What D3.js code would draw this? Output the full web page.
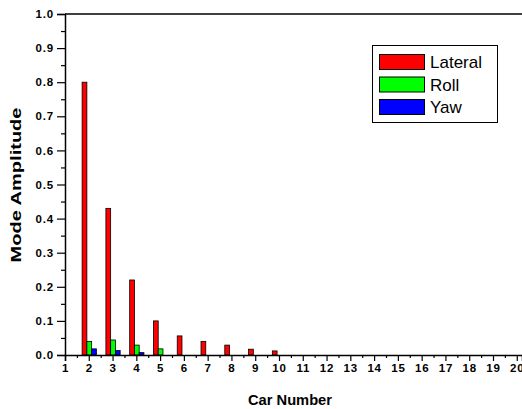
<!DOCTYPE html>
<html><head><meta charset="utf-8">
<script src="https://cdn.jsdelivr.net/npm/d3@7"></script>
<style>body{margin:0;background:#fff}svg{display:block}</style>
</head><body>
<script>
const cars = [2,3,4,5,6,7,8,9,10];
const lateral = [0.80,0.43,0.22,0.10,0.056,0.040,0.029,0.017,0.012];
const roll = [0.040,0.044,0.029,0.018,0,0,0,0,0];
const yaw = [0.018,0.013,0.007,0,0,0,0,0,0];
const seriesNames = ["Lateral","Roll","Yaw"];
const seriesColors = ["#ff0000","#00ff00","#0000ff"];
const xTicks = d3.range(1,21);
const yTicks = [0,0.1,0.2,0.3,0.4,0.5,0.6,0.7,0.8,0.9,1.0];

const W=522,H=409;
const svg=d3.select("body").append("svg").attr("width",W).attr("height",H);
const x=d3.scaleLinear().domain([1,20.22]).range([65,522]);
const y=d3.scaleLinear().domain([0,1]).range([355,14]);
const font="Liberation Sans, Arial, sans-serif";

// bars
const series=[lateral,roll,yaw];
const offs=[-0.28,-0.08,0.12];
const bw=0.2;
series.forEach((vals,si)=>{
  svg.append("g").selectAll("rect").data(cars.map((c,i)=>({c,v:vals[i]})).filter(d=>d.v>0))
    .join("rect")
    .attr("x",d=>x(d.c+offs[si]))
    .attr("width",d=>x(d.c+offs[si]+bw)-x(d.c+offs[si]))
    .attr("y",d=>y(d.v))
    .attr("height",d=>y(0)-y(d.v))
    .attr("fill",seriesColors[si]).attr("stroke","#000").attr("stroke-width",0.8);
});

// top border
svg.append("line").attr("x1",x(1)).attr("x2",W).attr("y1",y(1)).attr("y2",y(1)).attr("stroke","#000").attr("stroke-width",1.5);

// y axis
const yAx=svg.append("g").attr("transform",`translate(${x(1)},0)`)
  .call(d3.axisLeft(y).tickValues(yTicks).tickFormat(d3.format(".1f")).tickSize(8).tickPadding(3));
const yMinor=svg.append("g").attr("transform",`translate(${x(1)},0)`)
  .call(d3.axisLeft(y).tickValues(d3.range(0.05,1,0.1)).tickFormat("").tickSize(4));
// x axis
const xAx=svg.append("g").attr("transform",`translate(0,${y(0)})`)
  .call(d3.axisBottom(x).tickValues(xTicks).tickFormat(d3.format("d")).tickSize(6).tickPadding(3));
const xMinor=svg.append("g").attr("transform",`translate(0,${y(0)})`)
  .call(d3.axisBottom(x).tickValues(d3.range(1.5,20.5,1)).tickFormat("").tickSize(3));
[yAx,yMinor,xAx,xMinor].forEach(g=>{
  g.selectAll(".domain").attr("stroke","#000").attr("stroke-width",1.5);
  g.selectAll(".tick line").attr("stroke","#000").attr("stroke-width",1.2);
  g.selectAll("text").attr("font-family",font).attr("font-weight","bold").attr("font-size",11.5).attr("fill","#000").attr("letter-spacing",0.8);
});
yMinor.select(".domain").remove(); xMinor.select(".domain").remove();

// axis titles
svg.append("text").attr("x",290).attr("y",405).attr("text-anchor","middle")
  .attr("font-family",font).attr("font-weight","bold").attr("font-size",14)
  .attr("textLength",84).attr("lengthAdjust","spacingAndGlyphs").text("Car Number");
svg.append("text").attr("transform","translate(21,185) rotate(-90)").attr("text-anchor","middle")
  .attr("font-family",font).attr("font-weight","bold").attr("font-size",14)
  .attr("textLength",155).attr("lengthAdjust","spacingAndGlyphs").text("Mode Amplitude");

// legend
const lg=svg.append("g");
lg.append("rect").attr("x",372.5).attr("y",45.5).attr("width",125).attr("height",77).attr("fill","#fff").attr("stroke","#000").attr("stroke-width",1);
seriesNames.forEach((n,i)=>{
  const yy=54.5+i*22.5;
  lg.append("rect").attr("x",379.5).attr("y",yy).attr("width",45).attr("height",15).attr("fill",seriesColors[i]).attr("stroke","#000").attr("stroke-width",1);
  lg.append("text").attr("x",430).attr("y",yy+13.5).attr("font-family",font).attr("font-size",17).text(n);
});
</script>
</body></html>
